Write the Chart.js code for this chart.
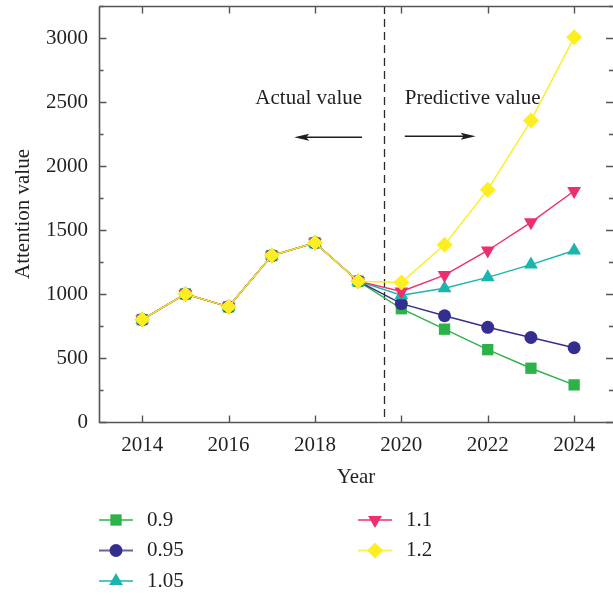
<!DOCTYPE html>
<html><head><meta charset="utf-8">
<script src="https://cdn.jsdelivr.net/npm/chart.js@4.4.1/dist/chart.umd.min.js"></script>
<style>html,body{margin:0;padding:0;background:#fff}#wrap{width:613px;height:595px}</style>
</head><body><div id="wrap"><canvas id="c" width="613" height="595"></canvas></div>
<script>
// ---- data ----
const years = [2014, 2015, 2016, 2017, 2018, 2019, 2020, 2021, 2022, 2023, 2024];
const actualValues = [800, 1000, 900, 1300, 1400, 1100];
const pred090 = [885, 725, 565, 420, 290];
const pred095 = [925, 830, 740, 660, 580];
const pred105 = [990, 1045, 1130, 1230, 1340];
const pred110 = [1020, 1148, 1340, 1560, 1805];
const pred120 = [1090, 1385, 1815, 2355, 3005];
const seriesLabels = ['0.9', '0.95', '1.05', '1.1', '1.2'];
const xTickValues = [2014, 2016, 2018, 2020, 2022, 2024];
const yTickValues = [0, 500, 1000, 1500, 2000, 2500, 3000];
const yMinorValues = [250, 750, 1250, 1750, 2250, 2750, 3250];
const dividerYear = 2019.6;
const annotationTexts = ['Actual value', 'Predictive value'];

const INK = '#231f20';
const FONT = "'Liberation Serif', 'Times New Roman', serif";

const styles = [
  {color: '#2db24a', pointStyle: 'rect', radius: 8, rotation: 0},
  {color: '#342f8f', pointStyle: 'circle', radius: 6.5, rotation: 0},
  {color: '#1ab5ad', pointStyle: 'triangle', radius: 8, rotation: 0},
  {color: '#ec2f6f', pointStyle: 'triangle', radius: 8, rotation: 180},
  {color: '#fcee21', pointStyle: 'rectRot', radius: 8, rotation: 0}
];
const preds = [pred090, pred095, pred105, pred110, pred120];

const datasets = preds.map((p, i) => {
  const vals = actualValues.concat(p);
  return {
    label: seriesLabels[i],
    data: years.map((y, k) => ({x: y, y: vals[k]})),
    borderColor: styles[i].color,
    backgroundColor: styles[i].color,
    borderWidth: 1.4,
    pointStyle: styles[i].pointStyle,
    pointRadius: styles[i].radius,
    pointRotation: styles[i].rotation,
    pointBorderWidth: 0,
    pointBackgroundColor: styles[i].color,
    tension: 0,
    order: 5 - i
  };
});

const framePlugin = {
  id: 'frame',
  beforeDatasetsDraw(chart) {
    const ctx = chart.ctx, a = chart.chartArea;
    const xs = chart.scales.x, ys = chart.scales.y;
    ctx.save();
    const dx = Math.round(xs.getPixelForValue(dividerYear)) + 0.5;
    ctx.strokeStyle = '#2b2b2b';
    ctx.lineWidth = 1.3;
    ctx.setLineDash([8, 5]);
    ctx.beginPath(); ctx.moveTo(dx, a.top); ctx.lineTo(dx, a.bottom); ctx.stroke();
    ctx.setLineDash([]);
    ctx.fillStyle = INK;
    ctx.font = '21px ' + FONT;
    ctx.textBaseline = 'middle';
    ctx.textAlign = 'right';
    ctx.fillText(annotationTexts[0], xs.getPixelForValue(2019.09), ys.getPixelForValue(2530));
    ctx.textAlign = 'left';
    ctx.fillText(annotationTexts[1], xs.getPixelForValue(2020.08), ys.getPixelForValue(2530));
    function arrow(x1, x2, yv) {
      const px1 = xs.getPixelForValue(x1), px2 = xs.getPixelForValue(x2), py = ys.getPixelForValue(yv);
      const dir = Math.sign(px2 - px1);
      ctx.strokeStyle = '#1e1e1e'; ctx.fillStyle = '#1e1e1e'; ctx.lineWidth = 1.4;
      ctx.beginPath(); ctx.moveTo(px1, py); ctx.lineTo(px2 - dir * 8, py); ctx.stroke();
      ctx.beginPath(); ctx.moveTo(px2, py); ctx.lineTo(px2 - dir * 15, py - 3.5); ctx.lineTo(px2 - dir * 12, py); ctx.lineTo(px2 - dir * 15, py + 3.5); ctx.closePath(); ctx.fill();
    }
    arrow(2019.09, 2017.52, 2225);
    arrow(2020.08, 2021.72, 2232);
    ctx.restore();
  },
  afterDraw(chart) {
    const ctx = chart.ctx, a = chart.chartArea;
    const xs = chart.scales.x, ys = chart.scales.y;
    ctx.save();
    ctx.strokeStyle = '#555555';
    ctx.lineWidth = 1.6;
    const L = Math.round(a.left) + 0.5, T = Math.round(a.top) + 0.5, B = Math.round(a.bottom) + 0.5, R = a.right;
    ctx.beginPath();
    ctx.moveTo(L, T); ctx.lineTo(R, T);
    ctx.moveTo(L, T); ctx.lineTo(L, B); ctx.lineTo(R, B);
    ctx.stroke();
    ctx.lineWidth = 1.4;
    ctx.beginPath();
    xTickValues.forEach(v => {
      const px = Math.round(xs.getPixelForValue(v)) + 0.5;
      ctx.moveTo(px, B); ctx.lineTo(px, B - 7);
      ctx.moveTo(px, T); ctx.lineTo(px, T + 7);
    });
    yTickValues.forEach(v => {
      const py = Math.round(ys.getPixelForValue(v)) + 0.5;
      ctx.moveTo(L, py); ctx.lineTo(L + 7, py);
      ctx.moveTo(R, py); ctx.lineTo(R - 7, py);
    });
    yMinorValues.forEach(v => {
      const py = Math.round(ys.getPixelForValue(v)) + 0.5;
      ctx.moveTo(L, py); ctx.lineTo(L + 4, py);
      ctx.moveTo(R, py); ctx.lineTo(R - 4, py);
    });
    ctx.stroke();
    const colX = [a.left, a.left + 259];
    const rowY0 = 520, rowGap = 30.5;
    chart.data.datasets.forEach((ds, i) => {
      const col = i < 3 ? 0 : 1, row = i < 3 ? i : i - 3;
      const x0 = colX[col], y = rowY0 + row * rowGap;
      ctx.globalAlpha = 0.75;
      ctx.strokeStyle = ds.borderColor; ctx.lineWidth = 2;
      ctx.beginPath(); ctx.moveTo(x0, y); ctx.lineTo(x0 + 34, y); ctx.stroke();
      ctx.globalAlpha = 1;
      ctx.fillStyle = ds.backgroundColor; ctx.strokeStyle = ds.backgroundColor;
      Chart.helpers.drawPoint(ctx, {pointStyle: ds.pointStyle, radius: ds.pointRadius, rotation: ds.pointRotation, borderWidth: 0}, x0 + 17, y);
      ctx.fillStyle = INK;
      ctx.font = '21px ' + FONT;
      ctx.textAlign = 'left'; ctx.textBaseline = 'middle';
      ctx.fillText(ds.label, x0 + 48, y);
    });
    ctx.restore();
  }
};

Chart.defaults.font.family = FONT;
Chart.defaults.font.size = 21;
Chart.defaults.color = INK;

new Chart(document.getElementById('c'), {
  type: 'line',
  data: {datasets},
  options: {
    responsive: false,
    animation: false,
    devicePixelRatio: 1,
    layout: {autoPadding: false, padding: {top: 6, right: 0, bottom: 105, left: 0}},
    plugins: {legend: {display: false}, tooltip: {enabled: false}},
    scales: {
      x: {
        type: 'linear', min: 2013, max: 2024.9,
        afterBuildTicks: s => { s.ticks = xTickValues.map(v => ({value: v})); },
        afterFit: s => { s.height = 68; s.paddingLeft = 0; s.paddingRight = 0; },
        grid: {display: false, drawTicks: false},
        border: {display: false},
        ticks: {padding: 11, font: {size: 21}, callback: v => String(v), maxRotation: 0, autoSkip: false},
        title: {display: true, text: 'Year', font: {size: 21}, padding: 0}
      },
      y: {
        min: 0, max: 3250,
        afterBuildTicks: s => { s.ticks = yTickValues.map(v => ({value: v})); },
        afterFit: s => { s.width = 99; s.paddingTop = 0; s.paddingBottom = 0; },
        grid: {display: false, drawTicks: false},
        border: {display: false},
        ticks: {padding: 11, font: {size: 21}, callback: v => String(v), autoSkip: false},
        title: {display: true, text: 'Attention value', font: {size: 21}, padding: {top: 11, bottom: 0}}
      }
    }
  },
  plugins: [framePlugin]
});
</script></body></html>
